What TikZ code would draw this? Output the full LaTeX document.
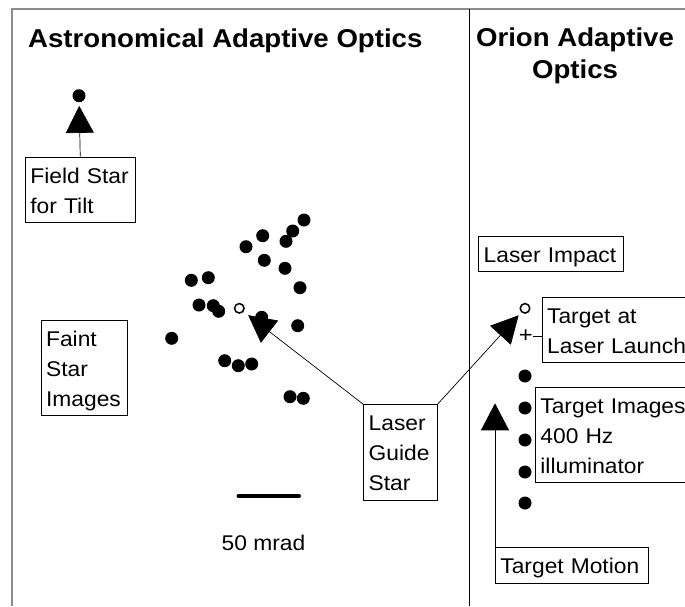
\documentclass[tikz,border=0pt]{standalone}
\usepackage{fontspec}
\setmainfont{Liberation Sans}[FakeStretch=1.07]
\usetikzlibrary{arrows.meta}
\newcommand{\topstrut}{\rule{0pt}{26pt}}
\newcommand{\botstrut}{\rule[-9.3pt]{0pt}{9.3pt}}
\tikzstyle{lbl} = [draw=black, line width=0.8pt, anchor=north west, align=left, inner xsep=5pt, inner ysep=0pt, font=\fontsize{21.3}{30}\selectfont, execute at begin node=\topstrut, execute at end node=\botstrut]
\tikzstyle{star} = [circle, fill=black, inner sep=0pt, minimum size=13pt]
\tikzstyle{ostar} = [circle, draw=black, line width=1.5pt, fill=white, inner sep=0pt, minimum size=9.5pt]
\tikzstyle{big} = [-{Triangle[length=27pt,width=28pt]}, line width=0.7pt]
\tikzstyle{ttl} = [inner sep=0pt, font=\fontsize{25.8}{31.6}\selectfont\bfseries]

\begin{document}
\begin{tikzpicture}[x=1pt, y=-1pt]
\clip (0,0) rectangle (685,606);
\fill[white] (0,0) rectangle (685,606);

% Frame
\draw[black!45, line width=2pt] (685,8.5) -- (12,8.5) -- (12,606);
\coordinate (divtop) at (469,8.5);
\coordinate (divbot) at (469,606);
\draw[line width=0.9pt] (divtop) -- (divbot);

% Titles
\node[ttl, anchor=base west] (astro) at (28,47) {Astronomical Adaptive Optics};
\node[ttl, anchor=north, align=center] (orion) at (575,28) {Orion Adaptive\\Optics};

% Stars
\node[star] (fs) at (79,95.7) {};
\foreach \x/\y [count=\i] in {304/220, 292.7/231, 286/241.3, 262.7/235.7, 246/246.7,
  264.3/260.3, 285/268.3, 300/287.7, 191.3/280.3, 208.3/277.7, 199/305, 213.3/305.7,
  218.7/311.3, 261.7/317.3, 297.7/325.7, 171.7/338.3, 224.7/360.7, 238.3/365.7,
  251.7/364, 290/396.7, 303.3/398.3}
  \node[star] (s\i) at (\x,\y) {};
\node[ostar] (gs) at (239.3,308.3) {};

\node[ostar] (imp) at (525,308.3) {};
\node[inner sep=0pt, font=\fontsize{22}{22}\selectfont] (plus) at (525.7,336) {+};
\foreach \y [count=\i] in {376, 408, 440, 472, 503}
  \node[star] (t\i) at (525,\y) {};

% Labels
\node[lbl, text width=99.7pt]  (field)  at (25,156.7)    {Field Star\\for Tilt};
\node[lbl, text width=76.6pt]  (faint)  at (40.7,320)    {Faint\\Star\\Images};
\node[lbl, text width=63.4pt]  (lgs)    at (363.3,404.3) {Laser\\Guide\\Star};
\node[lbl, text width=134.4pt] (impact) at (478.3,236)   {Laser Impact};
\node[lbl, text width=150pt]   (launch) at (541.7,296.7) {Target at\\Laser Launch};
\node[lbl, text width=150pt]   (images) at (535,386.7)   {Target Images\\400 Hz\\illuminator};
\node[lbl, text width=142.7pt] (motion) at (495,547.3)   {Target Motion};

% Scale bar
\coordinate (bar1) at (238.5,496);
\coordinate (bar2) at (299,496);
\draw[line width=4pt, line cap=round] (bar1) -- (bar2);
\node[inner sep=0pt, font=\fontsize{21.3}{22}\selectfont, anchor=base] (mrad) at (263.5,550.7) {50 mrad};

% Edges
\draw[big, shorten >=3.5pt] (field.north) -- (fs);
\draw[big, shorten >=5.7pt] (lgs.north west) -- (gs);
\draw[big, shorten >=4pt] (lgs.north east) -- (imp);
\coordinate (mtip) at (495,403.3);
\draw[big] (motion.north west) -- (mtip);
\draw[line width=0.7pt] (plus.east) -- (plus.east -| launch.west);
\end{tikzpicture}
\end{document}
